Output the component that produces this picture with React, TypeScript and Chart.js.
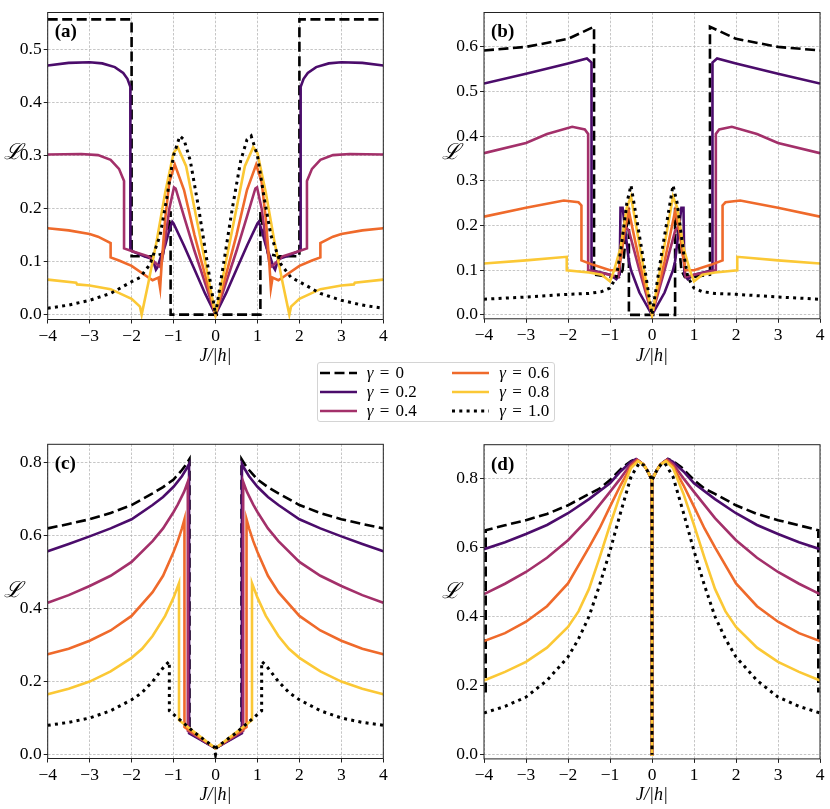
import React, { useEffect, useRef } from "react";
import { Chart, registerables } from "chart.js";

Chart.register(...registerables);

// ---------- ticks / labels ----------
const X_TICKS = [-4, -3, -2, -1, 0, 1, 2, 3, 4];
const Y_TICKS_A = [0, 0.1, 0.2, 0.3, 0.4, 0.5];
const Y_TICKS_B = [0, 0.1, 0.2, 0.3, 0.4, 0.5, 0.6];
const Y_TICKS_C = [0, 0.2, 0.4, 0.6, 0.8];
const Y_TICKS_D = [0, 0.2, 0.4, 0.6, 0.8];
const GAMMAS = ["0", "0.2", "0.4", "0.6", "0.8", "1.0"];
const COLORS = ["#000000", "#4b0c6b", "#a3306a", "#ef6a2b", "#fbc835", "#000000"];
const PANEL_NAMES = ["(a)", "(b)", "(c)", "(d)"];
const FONT = "'Liberation Serif', 'Times New Roman', serif";

type P = [number, number];

// ---------- panel (a), J >= 0 half (mirror-symmetric) ----------
const A_G0: P[] = [[0, 0], [1.07, 0], [1.07, 0.195], [1.12, 0.17], [1.25, 0.115], [1.5, 0.11], [2.0, 0.11], [2.0, 0.557], [4, 0.557]];
const A_G2: P[] = [[0, 0], [0.25, 0.04], [0.5, 0.085], [0.75, 0.13], [1.0, 0.172], [1.03, 0.175], [1.1, 0.16], [1.2, 0.13], [1.3, 0.11], [1.38, 0.09], [1.42, 0.085], [1.5, 0.105], [1.7, 0.11], [2.0, 0.12], [2.03, 0.125], [2.03, 0.43], [2.1, 0.445], [2.2, 0.456], [2.4, 0.467], [2.7, 0.474], [3.0, 0.476], [3.5, 0.475], [4, 0.47]];
const A_G4: P[] = [[0, 0], [0.25, 0.06], [0.5, 0.12], [0.75, 0.185], [0.95, 0.238], [0.99, 0.24], [1.1, 0.2], [1.2, 0.14], [1.28, 0.1], [1.32, 0.09], [1.4, 0.095], [1.6, 0.11], [2.0, 0.12], [2.18, 0.125], [2.18, 0.252], [2.3, 0.275], [2.5, 0.292], [2.8, 0.301], [3.2, 0.303], [4, 0.302]];
const A_G6: P[] = [[0, 0], [0.25, 0.075], [0.5, 0.15], [0.75, 0.235], [0.97, 0.283], [1.1, 0.25], [1.2, 0.18], [1.28, 0.1], [1.32, 0.05], [1.36, 0.07], [1.5, 0.065], [1.6, 0.07], [2.0, 0.092], [2.3, 0.102], [2.5, 0.108], [2.5, 0.135], [2.8, 0.147], [3.0, 0.152], [3.5, 0.159], [4, 0.163]];
const A_G8: P[] = [[0, 0], [0.25, 0.1], [0.5, 0.2], [0.7, 0.28], [0.9, 0.316], [1.0, 0.305], [1.2, 0.23], [1.4, 0.14], [1.6, 0.06], [1.76, 0.0], [1.8, 0.015], [2.0, 0.03], [2.5, 0.048], [3.0, 0.055], [3.3, 0.057], [3.32, 0.06], [4, 0.066]];
const A_G10: P[] = [[0, 0], [0.2, 0.1], [0.4, 0.2], [0.6, 0.29], [0.75, 0.33], [0.85, 0.337], [1.0, 0.3], [1.16, 0.22], [1.32, 0.15], [1.56, 0.095], [1.8, 0.07], [2.0, 0.062], [2.5, 0.04], [3.0, 0.027], [3.5, 0.018], [4, 0.012]];

// ---------- panel (b) ----------
const B_G0: P[] = [[0, 0], [0.55, 0], [0.55, 0.24], [0.6, 0.2], [0.7, 0.1], [0.78, 0.085], [1.0, 0.085], [1.38, 0.09], [1.38, 0.645], [2.0, 0.618], [3.0, 0.6], [4, 0.592]];
const B_G2: P[] = [[0, 0], [0.3, 0.05], [0.5, 0.1], [0.55, 0.12], [0.6, 0.16], [0.7, 0.24], [0.75, 0.24], [0.77, 0.09], [0.85, 0.08], [1.0, 0.09], [1.44, 0.1], [1.44, 0.565], [1.55, 0.574], [2.0, 0.563], [3.0, 0.54], [4, 0.518]];
const B_G4: P[] = [[0, 0], [0.3, 0.1], [0.55, 0.188], [0.65, 0.2], [0.72, 0.15], [0.8, 0.085], [1.0, 0.09], [1.52, 0.1], [1.52, 0.405], [1.6, 0.415], [1.9, 0.421], [2.5, 0.405], [3, 0.385], [4, 0.362]];
const B_G6: P[] = [[0, 0], [0.3, 0.12], [0.55, 0.232], [0.65, 0.19], [0.72, 0.14], [0.8, 0.1], [1.0, 0.1], [1.4, 0.112], [1.68, 0.122], [1.68, 0.245], [1.75, 0.252], [2.1, 0.256], [3, 0.24], [4, 0.22]];
const B_G8: P[] = [[0, 0], [0.25, 0.13], [0.5, 0.265], [0.6, 0.24], [0.75, 0.15], [0.9, 0.1], [1.0, 0.075], [1.2, 0.09], [1.5, 0.095], [2.03, 0.1], [2.03, 0.13], [3, 0.122], [4, 0.115]];
const B_G10: P[] = [[0, 0], [0.25, 0.15], [0.5, 0.29], [0.6, 0.25], [0.75, 0.14], [0.85, 0.085], [1.0, 0.06], [1.2, 0.052], [1.5, 0.048], [2, 0.046], [3, 0.04], [4, 0.035]];

// ---------- panel (c) ----------
const C_G0: P[] = [[0, 0.017], [0.62, 0.06], [0.62, 0.81], [0.7, 0.795], [0.8, 0.78], [1, 0.754], [1.25, 0.733], [1.5, 0.716], [2, 0.684], [2.5, 0.662], [3, 0.645], [3.5, 0.632], [4, 0.62]];
const C_G2: P[] = [[0, 0.017], [0.63, 0.058], [0.63, 0.797], [0.7, 0.782], [0.8, 0.763], [1, 0.734], [1.25, 0.706], [1.5, 0.684], [2, 0.645], [2.5, 0.62], [3, 0.598], [3.5, 0.577], [4, 0.557]];
const C_G4: P[] = [[0, 0.017], [0.66, 0.065], [0.66, 0.748], [0.75, 0.72], [0.9, 0.685], [1, 0.665], [1.25, 0.62], [1.5, 0.585], [2, 0.528], [2.5, 0.49], [3, 0.462], [3.5, 0.437], [4, 0.416]];
const C_G6: P[] = [[0, 0.017], [0.74, 0.075], [0.74, 0.645], [0.8, 0.62], [0.9, 0.585], [1, 0.555], [1.25, 0.49], [1.5, 0.445], [2, 0.38], [2.5, 0.34], [3, 0.312], [3.5, 0.29], [4, 0.275]];
const C_G8: P[] = [[0, 0.017], [0.87, 0.094], [0.87, 0.47], [1, 0.43], [1.2, 0.38], [1.5, 0.325], [1.75, 0.29], [2, 0.265], [2.5, 0.228], [3, 0.2], [3.5, 0.18], [4, 0.165]];
const C_G10: P[] = [[0, 0], [0.03, 0.02], [0.5, 0.06], [1.1, 0.12], [1.1, 0.255], [1.2, 0.245], [1.5, 0.2], [1.75, 0.17], [2, 0.15], [2.5, 0.12], [3, 0.1], [3.5, 0.088], [4, 0.08]];

// ---------- panel (d) ----------
const D_G0: P[] = [[0, 0], [0.001, 0.795], [0.1, 0.82], [0.2, 0.84], [0.38, 0.856], [0.5, 0.85], [0.7, 0.832], [1, 0.795], [1.25, 0.77], [1.5, 0.755], [2, 0.722], [2.5, 0.697], [3, 0.679], [3.5, 0.664], [3.96, 0.65], [3.96, 0.18]];
const D_G2: P[] = [[0, 0], [0.001, 0.795], [0.1, 0.82], [0.2, 0.84], [0.38, 0.856], [0.5, 0.848], [0.75, 0.82], [1, 0.786], [1.5, 0.74], [2, 0.699], [2.5, 0.665], [3, 0.639], [3.5, 0.615], [4, 0.595]];
const D_G4: P[] = [[0, 0], [0.001, 0.795], [0.1, 0.82], [0.2, 0.84], [0.36, 0.855], [0.5, 0.842], [0.75, 0.8], [1, 0.761], [1.5, 0.685], [2, 0.621], [2.5, 0.57], [3, 0.529], [3.5, 0.495], [4, 0.465]];
const D_G6: P[] = [[0, 0], [0.001, 0.795], [0.1, 0.82], [0.2, 0.84], [0.35, 0.852], [0.5, 0.835], [0.75, 0.78], [1, 0.718], [1.25, 0.655], [1.5, 0.6], [2, 0.496], [2.5, 0.43], [3, 0.385], [3.5, 0.352], [4, 0.329]];
const D_G8: P[] = [[0, 0], [0.001, 0.795], [0.1, 0.82], [0.2, 0.84], [0.33, 0.85], [0.5, 0.83], [0.75, 0.755], [1, 0.665], [1.25, 0.57], [1.5, 0.48], [1.75, 0.415], [2, 0.37], [2.5, 0.31], [3, 0.269], [3.5, 0.24], [4, 0.215]];
const D_G10: P[] = [[0, 0], [0.001, 0.795], [0.1, 0.82], [0.2, 0.838], [0.3, 0.845], [0.5, 0.805], [0.75, 0.7], [1, 0.59], [1.25, 0.49], [1.5, 0.4], [1.75, 0.335], [2, 0.283], [2.5, 0.215], [3, 0.167], [3.5, 0.14], [4, 0.121]];

const PANEL_DATA: P[][][] = [
  [A_G0, A_G2, A_G4, A_G6, A_G8, A_G10],
  [B_G0, B_G2, B_G4, B_G6, B_G8, B_G10],
  [C_G0, C_G2, C_G4, C_G6, C_G8, C_G10],
  [D_G0, D_G2, D_G4, D_G6, D_G8, D_G10],
];
const PANEL_YTICKS = [Y_TICKS_A, Y_TICKS_B, Y_TICKS_C, Y_TICKS_D];
const PANEL_YRANGE: P[] = [[-0.0092, 0.570], [-0.0088, 0.677], [-0.011, 0.8505], [-0.012, 0.8974]];

// geometry (page pixels)
type Geo = { cx: number; cy: number; cw: number; areaL: number; areaT: number; areaR: number; areaB: number; titleY: number; lx: number; ly: number };
const GEO: Geo[] = [
  { cx: 0, cy: 0, cw: 410, areaL: 47.7, areaT: 4.7, areaR: 383.3, areaB: 319, titleY: 355.7, lx: 12.5, ly: 153 },
  { cx: 420, cy: 0, cw: 410, areaL: 484, areaT: 4.7, areaR: 820, areaB: 318.3, titleY: 355.7, lx: 451, ly: 153 },
  { cx: 0, cy: 430, cw: 410, areaL: 47.7, areaT: 444.3, areaR: 383.3, areaB: 758.3, titleY: 795, lx: 12.5, ly: 591 },
  { cx: 420, cy: 430, cw: 410, areaL: 484, areaT: 444.7, areaR: 820, areaB: 758.7, titleY: 795, lx: 451, ly: 592 },
];

const TITLE_SIZE = 18;
const TITLE_LH = 1.2;

function mirror(half: P[]) {
  const left = half.filter((p) => p[0] > 0).slice().reverse().map(([x, y]) => ({ x: -x, y }));
  return [...left, ...half.map(([x, y]) => ({ x, y }))];
}

const decorPlugin = {
  id: "decor",
  afterDraw(chart: any, _args: any, opts: any) {
    const { ctx, chartArea: a } = chart;
    ctx.save();
    ctx.strokeStyle = "#222";
    ctx.lineWidth = 1;
    ctx.setLineDash([]);
    ctx.strokeRect(a.left, a.top, a.right - a.left, a.bottom - a.top);
    ctx.fillStyle = "#000";
    ctx.textBaseline = "middle";
    ctx.textAlign = "left";
    ctx.font = "bold 19px " + FONT;
    ctx.fillText(opts.panel, a.left + 7, a.top + 20);
    ctx.textAlign = "center";
    ctx.font = 'italic 22px "DejaVu Serif"';
    ctx.fillText("\u2112", opts.lx, opts.ly);
    ctx.restore();
  },
};

function fmtX(v: number) {
  return v < 0 ? "\u2212" + Math.abs(v) : String(v);
}

function Panel({ idx }: { idx: number }) {
  const ref = useRef<HTMLCanvasElement>(null);
  const g = GEO[idx];
  const xH = g.titleY + (TITLE_SIZE * TITLE_LH) / 2 - g.areaB;
  const ch = Math.ceil(g.areaB + xH - g.cy);
  useEffect(() => {
    const datasets = PANEL_DATA[idx].map((half, i) => ({
      label: "\u03b3 = " + GAMMAS[i],
      data: mirror(half),
      borderColor: COLORS[i],
      borderWidth: i === 5 ? 3 : 2.6,
      borderDash: i === 0 ? [10, 4.5] : i === 5 ? [3, 4.3] : [],
      borderCapStyle: "butt" as const,
      borderJoinStyle: "miter" as const,
      pointRadius: 0,
      tension: 0,
      fill: false,
      order: 6 - i,
    }));
    const yt = PANEL_YTICKS[idx];
    const [ymin, ymax] = PANEL_YRANGE[idx];
    const tickFont = { family: FONT, size: 17.5 };
    const chart = new Chart(ref.current!, {
      type: "line",
      data: { datasets },
      plugins: [decorPlugin],
      options: {
        animation: false,
        responsive: false,
        events: [],
        font: { family: FONT },
        layout: { padding: { left: 0, top: g.areaT - g.cy, right: g.cx + g.cw - g.areaR, bottom: 0 } },
        plugins: {
          legend: { display: false },
          tooltip: { enabled: false },
          decor: { panel: PANEL_NAMES[idx], lx: g.lx - g.cx, ly: g.ly - g.cy },
        } as any,
        scales: {
          x: {
            type: "linear",
            min: -4,
            max: 4,
            afterBuildTicks: (s: any) => {
              s.ticks = X_TICKS.map((v) => ({ value: v }));
            },
            afterFit: (s: any) => {
              s.height = xH;
            },
            ticks: { callback: (v: any) => fmtX(Number(v)), color: "#000", font: tickFont, padding: 2, maxRotation: 0, autoSkip: false },
            grid: { color: "#b8b8b8", lineWidth: 0.8, tickColor: "#222", tickLength: 4, tickWidth: 1, tickBorderDash: [] },
            border: { display: false, dash: [2.5, 1.6] },
            title: { display: true, text: "J/|h|", color: "#000", font: { family: FONT, size: TITLE_SIZE, style: "italic", lineHeight: TITLE_LH }, padding: 0 },
          },
          y: {
            type: "linear",
            min: ymin,
            max: ymax,
            afterBuildTicks: (s: any) => {
              s.ticks = yt.map((v) => ({ value: v }));
            },
            afterFit: (s: any) => {
              s.width = g.areaL - g.cx;
            },
            ticks: { callback: (v: any) => Number(v).toFixed(1), color: "#000", font: tickFont, padding: 2 },
            grid: { color: "#b8b8b8", lineWidth: 0.8, tickColor: "#222", tickLength: 4, tickWidth: 1, tickBorderDash: [] },
            border: { display: false, dash: [2.5, 1.6] },
          },
        },
      } as any,
    });
    return () => chart.destroy();
  }, [idx]);
  return (
    <canvas
      ref={ref}
      width={g.cw}
      height={ch}
      style={{ position: "absolute", left: g.cx, top: g.cy, width: g.cw, height: ch }}
    />
  );
}

function LegendSample({ i }: { i: number }) {
  const dash = i === 0 ? "10 4.5" : i === 5 ? "3 4.3" : undefined;
  return (
    <svg width={37} height={8} style={{ display: "block" }}>
      <line x1={0} y1={4} x2={37} y2={4} stroke={COLORS[i]} strokeWidth={i === 5 ? 3 : 2.6} strokeDasharray={dash} />
    </svg>
  );
}

export default function App() {
  Chart.defaults.font.family = FONT;
  const rows = [373.3, 392.3, 410.7];
  const cols = [
    { sx: 320, tx: 366.7 },
    { sx: 451.7, tx: 499.3 },
  ];
  return (
    <div style={{ position: "absolute", left: 0, top: 0, width: 830, height: 809, background: "#fff", overflow: "hidden" }}>
      {[0, 1, 2, 3].map((i) => (
        <Panel key={i} idx={i} />
      ))}
      <div
        style={{
          position: "absolute",
          left: 316.7,
          top: 361.7,
          width: 238,
          height: 60,
          border: "1px solid #d4d4d4",
          borderRadius: 3,
          boxSizing: "border-box",
          background: "#fff",
        }}
      />
      {GAMMAS.map((gm, i) => {
        const col = cols[i < 3 ? 0 : 1];
        const rowY = rows[i % 3];
        return (
          <React.Fragment key={gm}>
            <div style={{ position: "absolute", left: col.sx, top: rowY - 4 }}>
              <LegendSample i={i} />
            </div>
            <div
              style={{
                position: "absolute",
                left: col.tx,
                top: rowY - 10,
                height: 20,
                lineHeight: "20px",
                fontFamily: FONT,
                fontSize: 17,
                whiteSpace: "nowrap",
                wordSpacing: 2,
                color: "#000",
              }}
            >
              <i>{"\u03b3"}</i> = {gm}
            </div>
          </React.Fragment>
        );
      })}
    </div>
  );
}
